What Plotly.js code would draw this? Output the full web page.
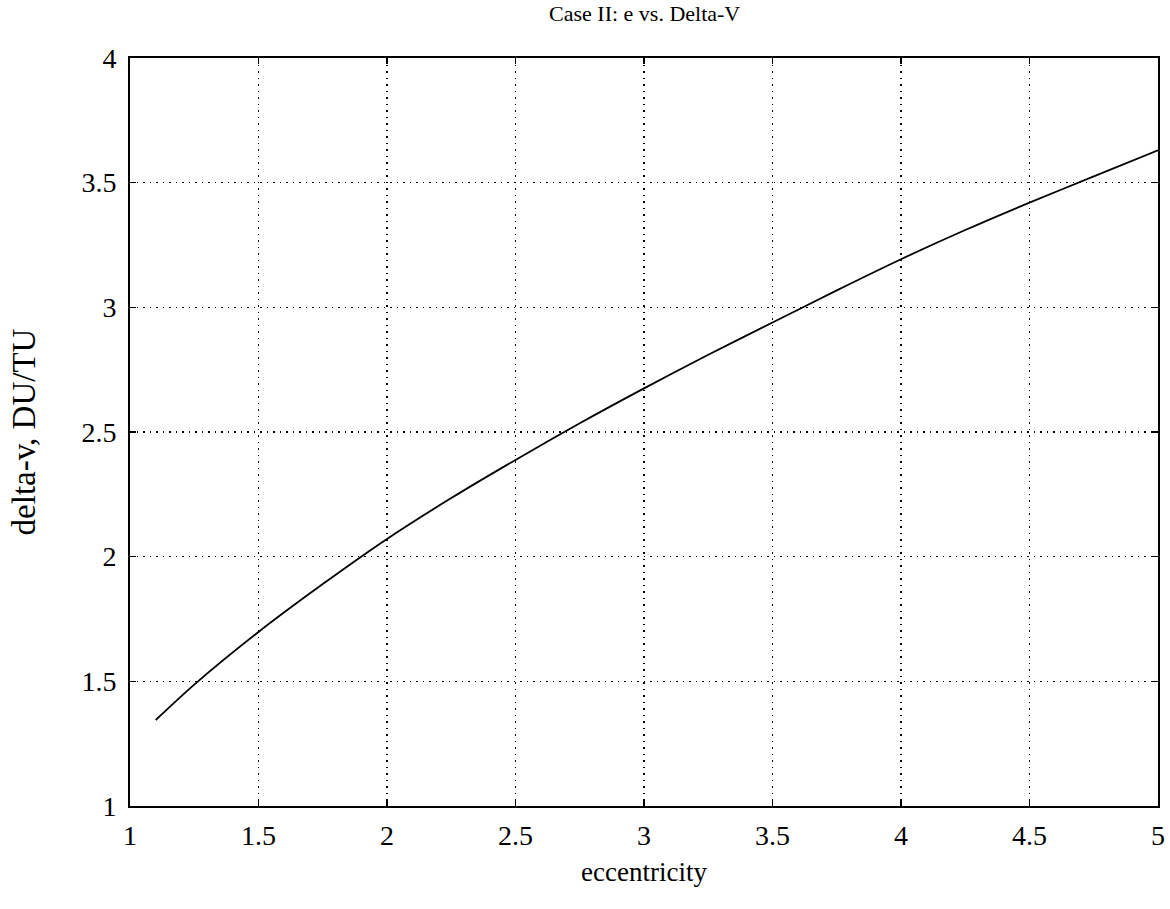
<!DOCTYPE html>
<html>
<head>
<meta charset="utf-8">
<script src="https://cdn.plot.ly/plotly-3.0.1.min.js"></script>
<style>html,body{margin:0;padding:0;background:#fff;}#chart{width:1170px;height:909px;}</style>
</head>
<body>
<div id="chart"></div>
<script>
const eccentricity = [1.1, 1.25, 1.5, 1.75, 2.0, 2.25, 2.5, 2.75, 3.0, 3.25, 3.5, 3.75, 4.0, 4.25, 4.5, 4.75, 5.0];
const deltaV = [1.345, 1.487, 1.698, 1.89, 2.071, 2.235, 2.388, 2.535, 2.675, 2.81, 2.939, 3.068, 3.193, 3.31, 3.42, 3.525, 3.63];
const xTicks = [1, 1.5, 2, 2.5, 3, 3.5, 4, 4.5, 5];
const xTickText = ['1', '1.5', '2', '2.5', '3', '3.5', '4', '4.5', '5'];
const yTicks = [1, 1.5, 2, 2.5, 3, 3.5, 4];
const yTickText = ['1', '1.5', '2', '2.5', '3', '3.5', '4'];

const font = {family: '"Liberation Serif", "Times New Roman", serif', color: '#000'};

const trace = {
  x: eccentricity, y: deltaV, type: 'scatter', mode: 'lines',
  line: {color: '#000', width: 1.8, shape: 'spline', smoothing: 0.8},
  hoverinfo: 'skip'
};

const axisCommon = {
  showline: true, linecolor: '#000', linewidth: 2, mirror: 'ticks',
  ticks: 'inside', ticklen: 6, tickcolor: '#000', tickwidth: 1.2,
  showgrid: true, gridcolor: '#000', gridwidth: 1.2, griddash: '1.5px,5px',
  zeroline: false, tickfont: Object.assign({size: 28}, font)
};

const layout = {
  width: 1170, height: 909,
  margin: {l: 130, r: 12, t: 58, b: 103},
  paper_bgcolor: '#fff', plot_bgcolor: '#fff',
  showlegend: false,
  font: font,
  title: {text: 'Case II: e vs. Delta-V', font: Object.assign({size: 22}, font),
          x: 0.551, xref: 'container', xanchor: 'center', y: 1 - 13/909, yref: 'container', yanchor: 'middle'},
  xaxis: Object.assign({}, axisCommon, {
    range: [1, 5], tickvals: xTicks, ticktext: xTickText, ticklabelstandoff: 3,
    title: {text: 'eccentricity', font: Object.assign({size: 27}, font), standoff: 13}
  }),
  yaxis: Object.assign({}, axisCommon, {
    range: [1, 4], tickvals: yTicks, ticktext: yTickText, ticklabelstandoff: 6,
    title: {text: 'delta-v, DU/TU', font: Object.assign({size: 33}, font), standoff: 36}
  })
};

Plotly.newPlot('chart', [trace], layout, {displayModeBar: false, staticPlot: true});
</script>
</body>
</html>
